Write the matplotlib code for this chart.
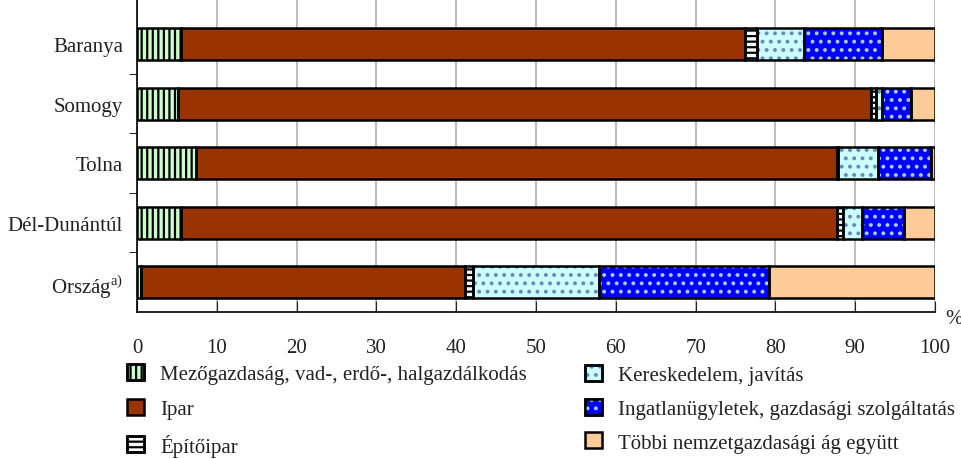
import matplotlib
matplotlib.use("Agg")
import matplotlib.pyplot as plt
from matplotlib.patches import Patch
from matplotlib.legend_handler import HandlerTuple
import numpy as np

plt.rcParams["font.family"] = ["Liberation Serif", "DejaVu Serif"]
plt.rcParams["mathtext.fontset"] = "custom"
plt.rcParams["mathtext.rm"] = "Liberation Serif"
plt.rcParams["hatch.linewidth"] = 1.6

# Data (% share)
regions = ["Baranya", "Somogy", "Tolna", "Dél-Dunántúl", "Ország$^{\\mathrm{a)}}$"]
mezogazdasag = [5.5, 5.1, 7.4, 5.5, 0.5]
ipar = [70.7, 86.9, 80.3, 82.2, 40.6]
epitoipar = [1.5, 0.6, 0.2, 0.8, 1.0]
kereskedelem = [5.9, 0.8, 5.0, 2.4, 15.8]
ingatlan = [9.8, 3.6, 6.6, 5.2, 21.3]
tobbi = [6.6, 3.0, 0.5, 3.9, 20.8]

series = [
    ("Mezőgazdaság, vad-, erdő-, halgazdálkodás", mezogazdasag, "#ccffcc", "|||", "black"),
    ("Ipar", ipar, "#993300", None, None),
    ("Építőipar", epitoipar, "white", "---", "black"),
    ("Kereskedelem, javítás", kereskedelem, "#ccffff", "..", "#6688bb"),
    ("Ingatlanügyletek, gazdasági szolgáltatás", ingatlan, "#0000ff", "..", "#aaccff"),
    ("Többi nemzetgazdasági ág együtt", tobbi, "#ffcc99", None, None),
]

FS = 15

fig = plt.figure(figsize=(9.62, 4.6), dpi=100)
ax = fig.add_axes([137 / 962, 1 - 313 / 460, (935 - 137) / 962, 313 / 460])

y = np.arange(len(regions))
h = 0.54
left = np.zeros(len(regions))
handles = []
for name, vals, fc, hatch, hc in series:
    vals = np.array(vals)
    ax.barh(y, vals, h, left=left, color=fc, linewidth=0, zorder=3)
    if hatch:
        ax.barh(y, vals, h, left=left, facecolor="none", edgecolor=hc,
                hatch=hatch, linewidth=0, zorder=4)
    ax.barh(y, vals, h, left=left, facecolor="none", edgecolor="black",
            linewidth=1.8, zorder=5)
    left += vals
    base = Patch(facecolor=fc, edgecolor="black", linewidth=1.8)
    if hatch:
        over = Patch(facecolor="none", edgecolor=hc, hatch=hatch, linewidth=0)
        border = Patch(facecolor="none", edgecolor="black", linewidth=1.8)
        handles.append(((base, over, border), name))
    else:
        handles.append((base, name))

# Axes styling
ax.set_xlim(0, 100)
ax.set_ylim(4.5, -0.76)
ax.set_xticks(np.arange(0, 101, 10))
ax.tick_params(axis="x", direction="in", length=8, labelsize=FS, pad=19, colors="#222222")
ax.set_yticks(y)
ax.set_yticklabels(regions)
ax.tick_params(axis="y", length=0, labelsize=FS, pad=10, colors="#222222")
ax.set_yticks([0.5, 1.5, 2.5, 3.5], minor=True)
ax.tick_params(axis="y", which="minor", length=6, direction="out", color="black")
ax.grid(axis="x", color="#b0b0b0", linewidth=1.2, zorder=0)
for s in ["top", "right"]:
    ax.spines[s].set_visible(False)
ax.spines["left"].set_linewidth(1.2)
ax.spines["bottom"].set_linewidth(1.2)
ax.text(1.013, -0.02, "%", transform=ax.transAxes, fontsize=FS, color="#222222",
        ha="left", va="center")

def make_legend(items, x, y0, spacing):
    hs = [i[0] for i in items]
    ls = [i[1] for i in items]
    leg = fig.legend(hs, ls, loc="upper left", bbox_to_anchor=(x, y0),
                     frameon=False, fontsize=FS, handlelength=0.8,
                     handleheight=0.8, handletextpad=0.8, borderpad=0,
                     borderaxespad=0, labelspacing=spacing,
                     handler_map={tuple: HandlerTuple(ndivide=1, pad=0)})
    for t in leg.get_texts():
        t.set_color("#222222")
    return leg

make_legend(handles[:3], 127 / 962, 1 - 365 / 460, 0.7)
make_legend(handles[3:], 585 / 962, 1 - 366 / 460, 0.65)

fig.savefig("out.png", dpi=100)
